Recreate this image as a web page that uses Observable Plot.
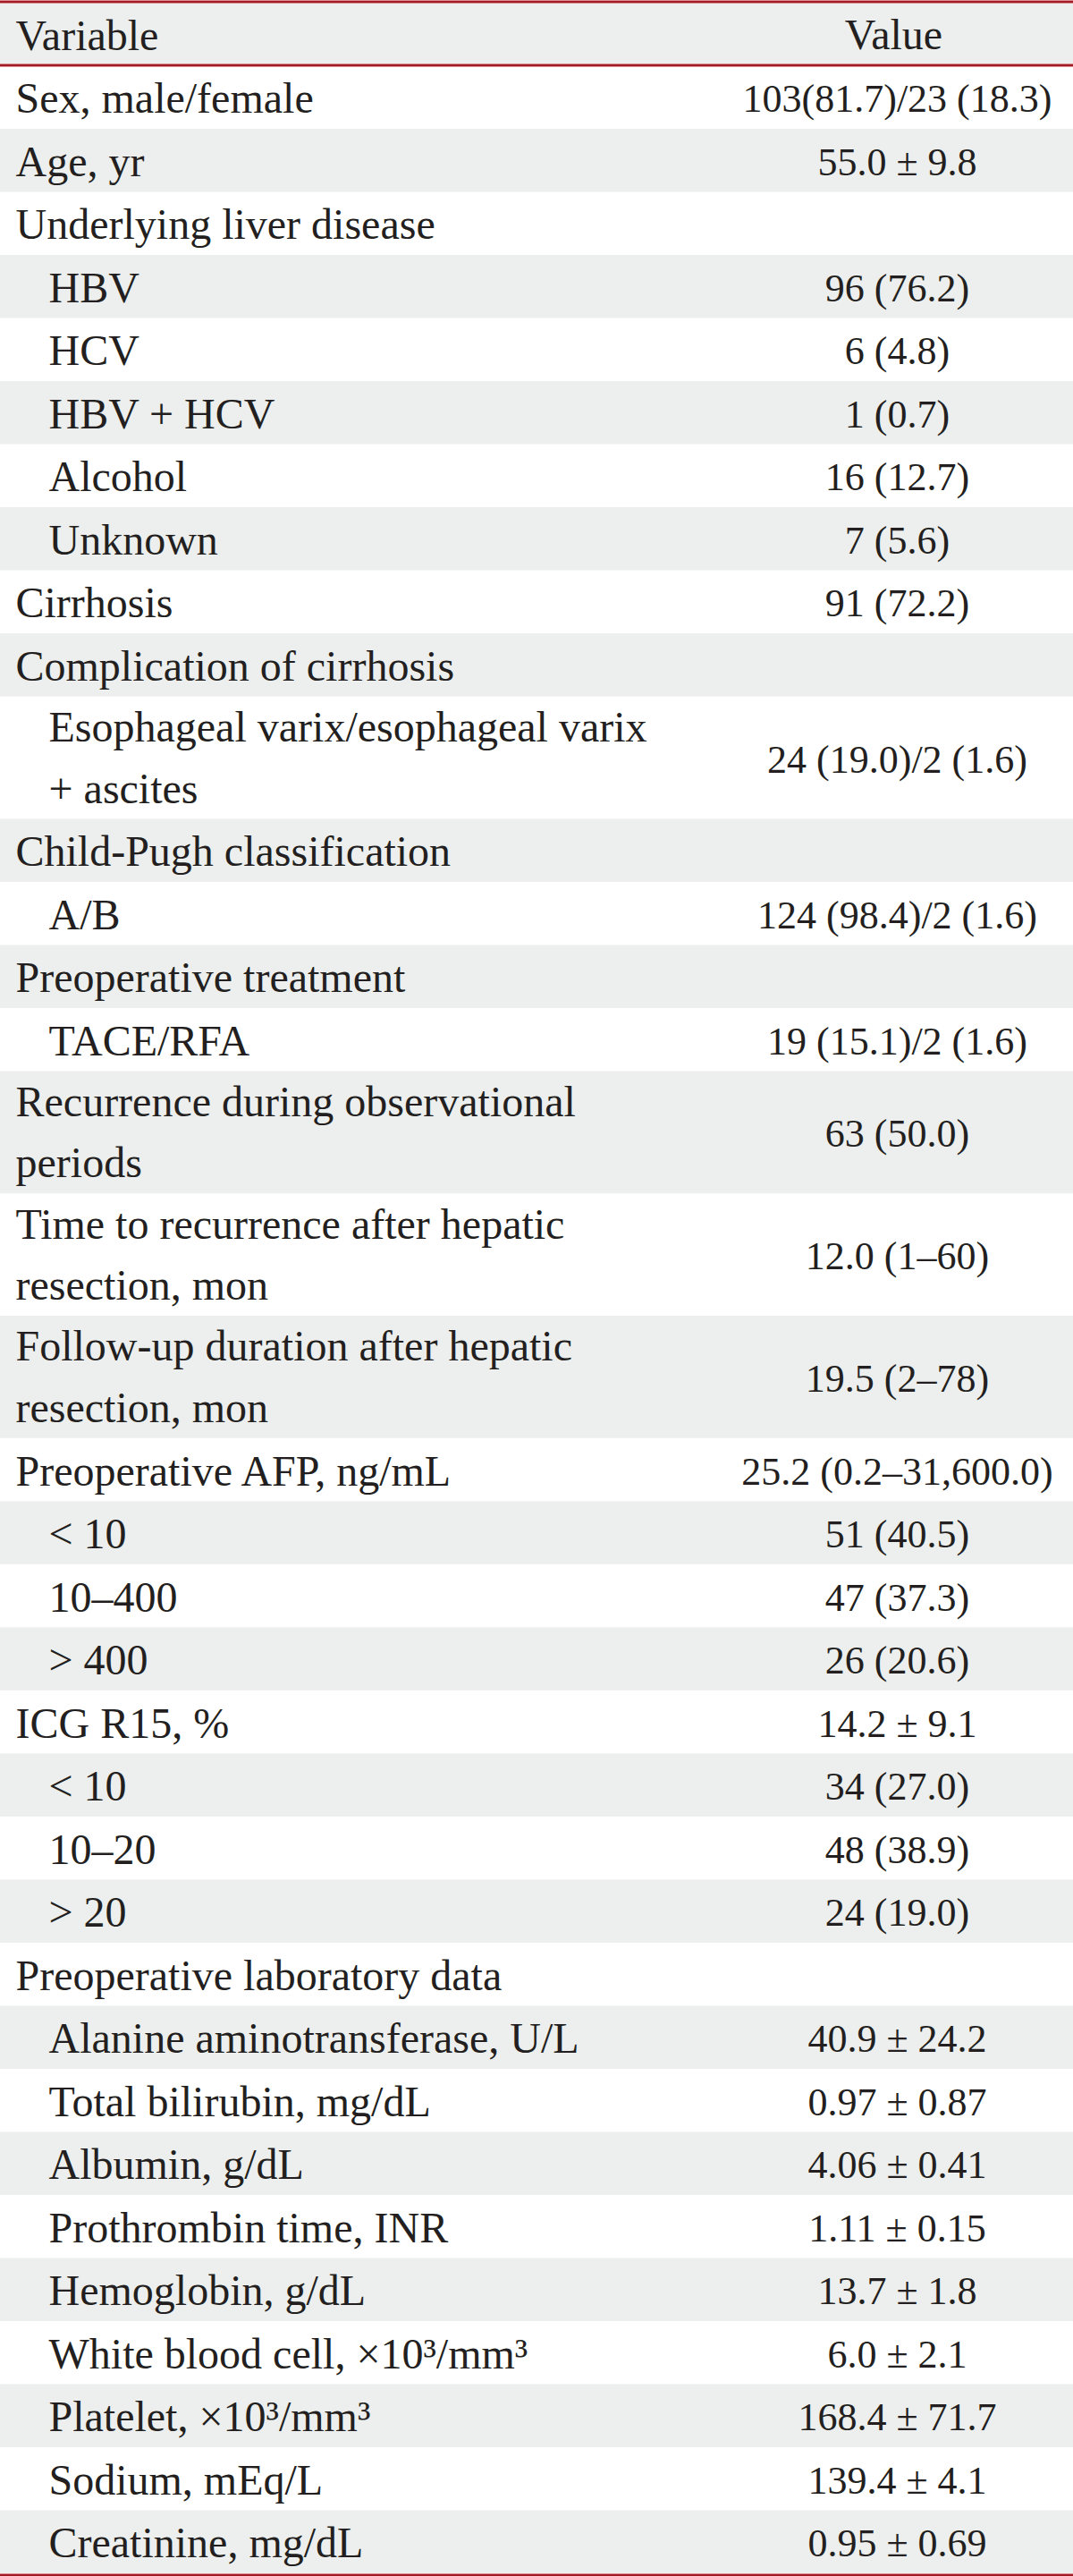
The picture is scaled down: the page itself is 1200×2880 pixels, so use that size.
<!DOCTYPE html>
<html>
<head>
<meta charset="utf-8">
<script src="https://cdn.jsdelivr.net/npm/d3@7"></script>
<script src="https://cdn.jsdelivr.net/npm/@observablehq/plot@0.6"></script>
<style>
html, body { margin: 0; padding: 0; background: #ffffff; }
#chart svg { display: block; }
</style>
</head>
<body>
<div id="chart"></div>
<script>
// ---- data ----
const headers = ["Variable", "Value"];

const labels = [
  "Sex, male/female",
  "Age, yr",
  "Underlying liver disease",
  "HBV",
  "HCV",
  "HBV + HCV",
  "Alcohol",
  "Unknown",
  "Cirrhosis",
  "Complication of cirrhosis",
  "Esophageal varix/esophageal varix\n+ ascites",
  "Child-Pugh classification",
  "A/B",
  "Preoperative treatment",
  "TACE/RFA",
  "Recurrence during observational\nperiods",
  "Time to recurrence after hepatic\nresection, mon",
  "Follow-up duration after hepatic\nresection, mon",
  "Preoperative AFP, ng/mL",
  "< 10",
  "10–400",
  "> 400",
  "ICG R15, %",
  "< 10",
  "10–20",
  "> 20",
  "Preoperative laboratory data",
  "Alanine aminotransferase, U/L",
  "Total bilirubin, mg/dL",
  "Albumin, g/dL",
  "Prothrombin time, INR",
  "Hemoglobin, g/dL",
  "White blood cell, ×10³/mm³",
  "Platelet, ×10³/mm³",
  "Sodium, mEq/L",
  "Creatinine, mg/dL"
];

const values = [
  "103(81.7)/23 (18.3)",
  "55.0 ± 9.8",
  "",
  "96 (76.2)",
  "6 (4.8)",
  "1 (0.7)",
  "16 (12.7)",
  "7 (5.6)",
  "91 (72.2)",
  "",
  "24 (19.0)/2 (1.6)",
  "",
  "124 (98.4)/2 (1.6)",
  "",
  "19 (15.1)/2 (1.6)",
  "63 (50.0)",
  "12.0 (1–60)",
  "19.5 (2–78)",
  "25.2 (0.2–31,600.0)",
  "51 (40.5)",
  "47 (37.3)",
  "26 (20.6)",
  "14.2 ± 9.1",
  "34 (27.0)",
  "48 (38.9)",
  "24 (19.0)",
  "",
  "40.9 ± 24.2",
  "0.97 ± 0.87",
  "4.06 ± 0.41",
  "1.11 ± 0.15",
  "13.7 ± 1.8",
  "6.0 ± 2.1",
  "168.4 ± 71.7",
  "139.4 ± 4.1",
  "0.95 ± 0.69"
];

const indentLevels = [0,0,0,1,1,1,1,1,0,0,1,0,1,0,1,0,0,0,0,1,1,1,0,1,1,1,0,1,1,1,1,1,1,1,1,1];

// ---- layout / style ----
const W = 1200, H = 2880;
const INK = "#231f20";
const STRIPE = "#edefee";
const RED = "#c4212d";
const DARKRED = "#7d1a1f";
const LABEL_X = 17, INDENT = 37, VALUE_X = 1003;
const EXTRA_LINE = 0.94;   // extra row height (in row units) per additional text line

const rows = [{label: headers[0], value: headers[1], indent: 0, header: true}]
  .concat(labels.map((l, i) => ({label: l, value: values[i], indent: indentLevels[i], header: false})));

let acc = 0;
rows.forEach((r, i) => {
  const n = r.label.split("\n").length;
  r.i = i;
  r.top = acc;
  r.size = 1 + (n - 1) * EXTRA_LINE;
  r.bottom = acc + r.size;
  r.mid = acc + r.size / 2;
  r.lastLine = acc + (n - 1) * EXTRA_LINE + 0.5;
  acc = r.bottom;
});
const total = acc;

const chart = Plot.plot({
  width: W,
  height: H,
  marginLeft: 0,
  marginRight: 0,
  marginTop: 3,
  marginBottom: 3,
  x: {domain: [0, W], range: [0, W], axis: null},
  y: {domain: [0, total], range: [3, H - 3], axis: null},
  style: {fontFamily: "'Liberation Serif', 'DejaVu Serif', serif", background: "#ffffff", color: INK},
  marks: [
    // zebra stripes (header + every other row)
    Plot.rect(rows.filter(r => r.i % 2 === 0), {
      x1: () => 0, x2: () => W, y1: "top", y2: "bottom", fill: STRIPE
    }),
    // labels
    Plot.text(rows, {
      x: d => LABEL_X + d.indent * INDENT,
      y: "lastLine",
      text: "label",
      textAnchor: "start",
      lineAnchor: "bottom",
      lineHeight: 1.43,
      dy: 17,
      fontSize: 48,
      fill: INK
    }),
    // values
    Plot.text(rows.filter(r => !r.header), {
      x: () => VALUE_X,
      y: "mid",
      text: "value",
      textAnchor: "middle",
      lineAnchor: "bottom",
      dy: 16,
      fontSize: 44,
      fill: INK
    }),
    Plot.text(rows.filter(r => r.header), {
      x: () => VALUE_X - 4,
      y: "mid",
      text: "value",
      textAnchor: "middle",
      lineAnchor: "bottom",
      dy: 16,
      fontSize: 48,
      fill: INK
    }),
    // red rules: top, below header, bottom
    Plot.ruleY([0], {dy: -1.5, stroke: RED, strokeWidth: 3}),
    Plot.ruleY([0], {dy: -1.5, stroke: DARKRED, strokeWidth: 1}),
    Plot.ruleY([rows[0].bottom], {dy: -1, stroke: RED, strokeWidth: 3}),
    Plot.ruleY([rows[0].bottom], {dy: -1, stroke: DARKRED, strokeWidth: 1}),
    Plot.ruleY([total], {dy: 1.5, stroke: RED, strokeWidth: 3}),
    Plot.ruleY([total], {dy: 1.5, stroke: DARKRED, strokeWidth: 1})
  ]
});

document.getElementById("chart").appendChild(chart);
</script>
</body>
</html>
